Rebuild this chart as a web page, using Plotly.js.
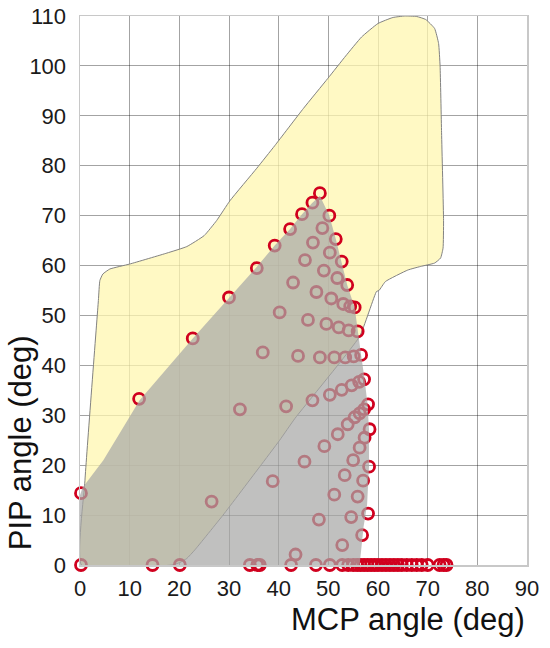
<!DOCTYPE html>
<html>
<head>
<meta charset="utf-8">
<script src="https://cdn.plot.ly/plotly-3.0.1.min.js"></script>
<style>html,body{margin:0;padding:0;background:#fff;}#chart{width:550px;height:648px;}</style>
</head>
<body>
<div id="chart"></div>
<script>
// Yellow (outer) range polygon
const yellowMcp = [0.3,1.0,3.7,4.0,4.6,6.0,10.0,17.5,21.5,25.0,27.5,30.2,35.6,39.2,45.0,49.9,53.5,56.7,60.0,63.0,65.4,67.8,69.6,71.4,72.2,72.5,72.8,73.2,73.1,72.6,71.4,68.5,66.0,61.5,60.2,59.7,56.3,43.3,40.2,36.2,28.8,23.1,21.5,20.1,18.5,0.3];
const yellowPip = [0.0,17.0,53.0,57.0,58.3,59.3,60.3,62.5,63.8,66.0,69.0,73.0,79.5,84.0,91.5,97.5,102.0,105.8,108.5,109.7,110.0,109.9,109.3,107.5,104.5,100.0,86.6,69.0,63.5,61.5,60.5,59.8,59.1,56.8,55.0,54.8,45.8,29.4,25.0,19.7,10.0,3.0,1.3,0.5,0.0,0.0];

// Gray (inner) range polygon
const grayMcp = [0.0,0.0,0.5,4.7,10.0,12.0,22.7,30.0,35.4,39.2,42.3,44.7,46.7,48.3,50.2,51.5,52.7,53.8,55.3,55.9,56.6,57.3,57.9,58.2,58.2,57.8,57.1,56.3,0.0];
const grayPip = [0.0,14.0,15.5,21.0,29.7,33.0,45.4,53.6,59.5,64.0,67.3,70.3,72.5,74.0,70.0,65.3,60.8,56.1,51.6,46.8,42.1,37.2,32.1,27.0,20.0,12.0,7.7,0.0,0.0];

// Measured postures (MCP, PIP)
const pointsMcp = [
  0.2,11.9,22.7,30.0,35.6,39.2,42.3,44.7,46.8,48.3,
  50.2,51.5,52.7,53.8,55.3,55.9,56.6,57.2,58.0,58.3,58.2,58.0,56.8,
  48.8,46.9,50.3,45.3,49.1,51.8,42.9,47.6,50.6,53.0,54.4,40.2,45.9,49.6,52.1,54.1,
  36.8,43.9,48.3,51.2,53.4,55.1,56.2,54.7,52.7,50.3,46.8,41.5,32.2,
  57.2,56.3,55.3,53.9,51.9,49.2,45.2,57.3,56.3,55.0,53.3,51.2,48.1,43.4,
  57.0,55.9,54.6,52.8,38.8,26.5,
  0.2,14.6,20.1,34.2,35.7,36.2,42.5,47.5,50.3,52.8,54.0,55.0,55.8,56.5,57.2,57.9,58.6,59.3,
  60.0,60.8,61.6,62.4,63.2,64.0,64.8,65.8,66.8,67.8,68.8,70.0,72.4,73.2,73.8
];
const pointsPip = [
  14.4,33.3,45.4,53.6,59.5,64.0,67.3,70.3,72.6,74.5,
  70.0,65.3,60.8,56.1,51.6,46.8,42.1,37.2,32.2,27.2,19.7,10.3,6.0,
  67.5,64.6,62.6,61.1,59.0,57.5,56.6,54.7,53.4,52.3,51.8,50.6,49.1,48.3,47.6,47.0,
  42.6,41.9,41.6,41.6,41.6,41.8,36.7,36.0,35.1,34.1,33.0,31.8,31.2,
  31.2,30.4,29.6,28.2,26.2,23.8,20.7,25.5,23.5,21.0,18.0,14.1,9.1,2.1,
  16.9,13.7,9.6,4.0,16.8,12.7,
  0,0,0,0,0,0,0,0,0,0,0,0,0,0,0,0,0,0,
  0,0,0,0,0,0,0,0,0,0,0,0,0,0,0
];

const xTicks = [0,10,20,30,40,50,60,70,80,90];
const yTicks = [0,10,20,30,40,50,60,70,80,90,100,110];

const traces = [
  {x: yellowMcp, y: yellowPip, type: 'scatter', mode: 'lines', fill: 'toself',
   fillcolor: 'rgba(255,247,176,0.75)', line: {color: 'rgb(130,130,130)', width: 1, shape: 'spline', smoothing: 0.4},
   hoverinfo: 'skip'},
  {x: pointsMcp, y: pointsPip, type: 'scatter', mode: 'markers', cliponaxis: false,
   marker: {symbol: 'circle-open', size: 11, color: 'rgb(208,0,30)', line: {width: 2.8, color: 'rgb(208,0,30)'}}},
  {x: grayMcp, y: grayPip, type: 'scatter', mode: 'lines', fill: 'toself',
   fillcolor: 'rgba(168,167,166,0.72)', line: {width: 0, color: 'rgba(0,0,0,0)'}, hoverinfo: 'skip'}
];

const tickFont = {family: 'Liberation Sans, Arial, sans-serif', size: 22, color: '#1a1a1a'};
const titleFont = {family: 'Liberation Sans, Arial, sans-serif', size: 31, color: '#111'};

const layout = {
  width: 550, height: 648,
  margin: {l: 80, r: 23, t: 16, b: 83},
  paper_bgcolor: '#fff', plot_bgcolor: '#fff',
  showlegend: false,
  xaxis: {range: [0, 90], tickvals: xTicks, ticktext: xTicks.map(String), tickfont: tickFont,
          showgrid: true, gridcolor: 'rgba(0,0,0,0.36)', gridwidth: 1, zeroline: false,
          showline: true, mirror: true, linecolor: 'rgb(200,200,200)', linewidth: 1.5,
          ticks: '', ticklabelstandoff: 3, fixedrange: true},
  yaxis: {range: [0, 110], tickvals: yTicks, ticktext: yTicks.map(String), tickfont: tickFont,
          showgrid: true, gridcolor: 'rgba(0,0,0,0.36)', gridwidth: 1, zeroline: false,
          showline: true, mirror: true, linecolor: 'rgb(200,200,200)', linewidth: 1.5,
          ticks: '', ticklabelstandoff: 8, fixedrange: true},
  annotations: [
    {text: 'MCP angle (deg)', xref: 'paper', yref: 'paper', x: 1.0, y: -0.1, xanchor: 'right', yanchor: 'middle',
     showarrow: false, font: titleFont},
    {text: 'PIP angle (deg)', xref: 'paper', yref: 'paper', x: -0.134, y: 0.222, xanchor: 'center', yanchor: 'middle',
     textangle: -90, showarrow: false, font: titleFont}
  ]
};

Plotly.newPlot('chart', traces, layout, {displayModeBar: false, staticPlot: true});
</script>
</body>
</html>
